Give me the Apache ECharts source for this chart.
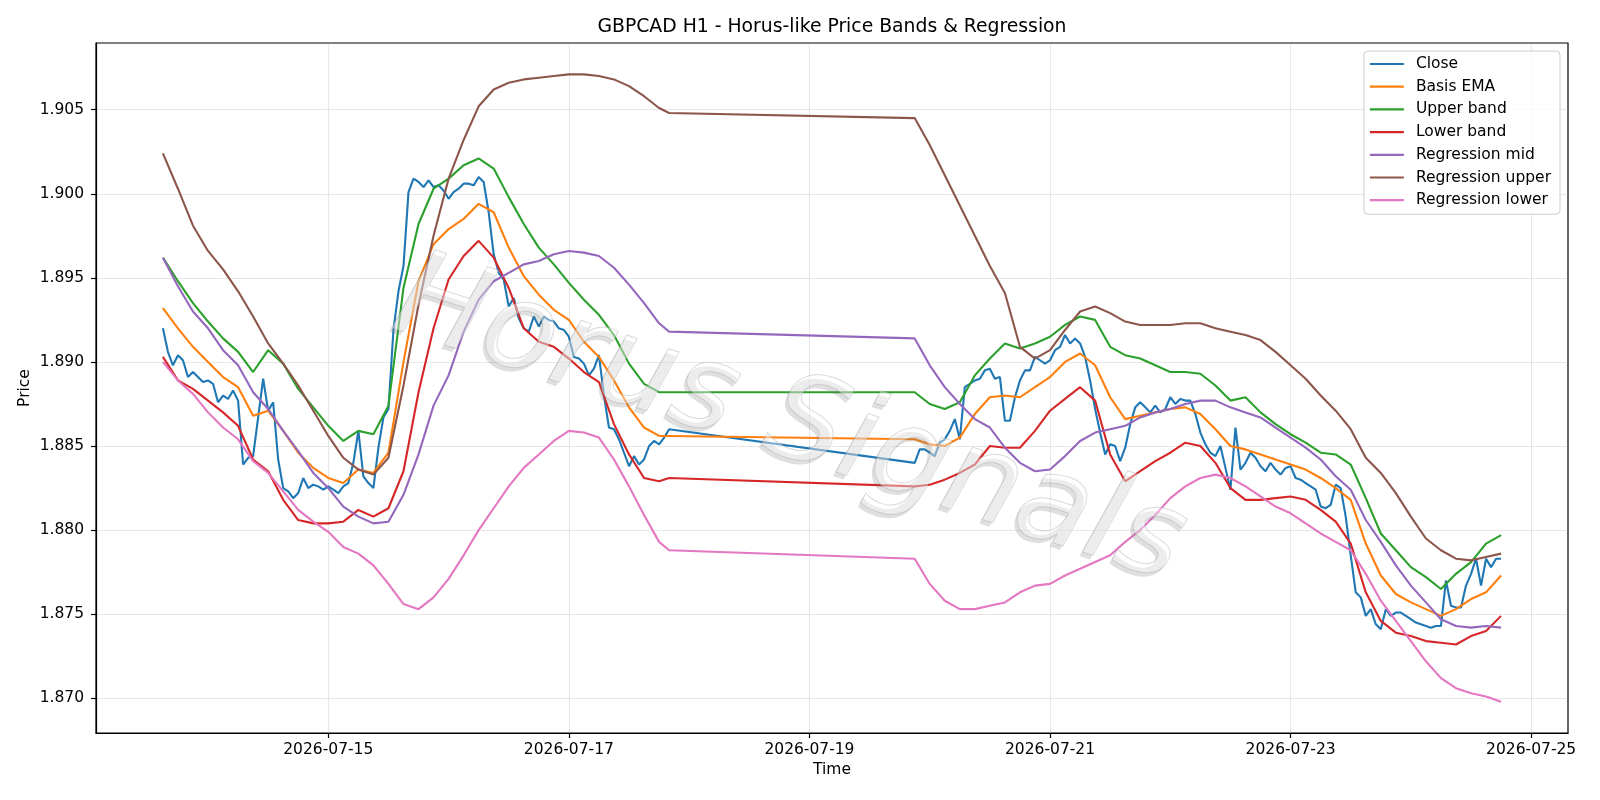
<!DOCTYPE html>
<html>
<head>
<meta charset="utf-8">
<title>GBPCAD H1 - Horus-like Price Bands & Regression</title>
<script src="https://cdn.jsdelivr.net/npm/echarts@6/dist/echarts.min.js"></script>
<style>
    html, body { margin: 0; padding: 0; background: #fff; }
    #chart { width: 1600px; height: 800px; }
</style>
</head>
<body>
<div id="chart"></div>
<script>
// hours are counted from the first H1 bar, 2026-07-13 15:00 UTC
const startTime = Date.UTC(2026, 6, 13, 15)
const HOUR = 3600 * 1000

// two trading sessions, the weekend in between has no bars
const sessions = [[0, 101], [150, 267]]

const closeWeek1 = [
    1.8920, 1.8906, 1.8898, 1.8904, 1.8901, 1.8891, 1.8894, 1.8891, 1.8888, 1.8889,
    1.8887, 1.8876, 1.8880, 1.8878, 1.8883, 1.8877, 1.8839, 1.8843, 1.8844, 1.8867,
    1.8890, 1.8871, 1.8876, 1.8842, 1.8825, 1.8823, 1.8819, 1.8822, 1.8831, 1.8825,
    1.8827, 1.8826, 1.8824, 1.8826, 1.8824, 1.8822, 1.8826, 1.8828, 1.8840, 1.8859,
    1.8832, 1.8828, 1.8825, 1.8849, 1.8867, 1.8872, 1.8919, 1.8942, 1.8957, 1.9001,
    1.9009, 1.9007, 1.9004, 1.9008, 1.9004, 1.9005, 1.9002, 1.8997, 1.9001, 1.9003,
    1.9006, 1.9006, 1.9005, 1.9010, 1.9007, 1.8989, 1.8964, 1.8953, 1.8949, 1.8933,
    1.8938, 1.8926, 1.8920, 1.8918, 1.8927, 1.8921, 1.8927, 1.8925, 1.8924, 1.8920,
    1.8919, 1.8915, 1.8903, 1.8902, 1.8899, 1.8892, 1.8896, 1.8904, 1.8880, 1.8861,
    1.8860, 1.8854, 1.8846, 1.8838, 1.8844, 1.8839, 1.8842, 1.8850, 1.8853, 1.8851,
    1.8855, 1.8860
]
const closeWeek2 = [
    1.8840, 1.8848, 1.8848, 1.8846, 1.8844, 1.8852, 1.8854, 1.8859, 1.8866, 1.8854,
    1.8885, 1.8887, 1.8889, 1.8890, 1.8895, 1.8896, 1.8890, 1.8891, 1.8865, 1.8865,
    1.8879, 1.8889, 1.8895, 1.8895, 1.8903, 1.8901, 1.8899, 1.8901, 1.8907, 1.8909,
    1.8916, 1.8911, 1.8914, 1.8911, 1.8903, 1.8889, 1.8872, 1.8858, 1.8845, 1.8851,
    1.8850, 1.8841, 1.8849, 1.8863, 1.8873, 1.8876, 1.8873, 1.8870, 1.8874, 1.8870,
    1.8872, 1.8879, 1.8875, 1.8878, 1.8877, 1.8877, 1.8869, 1.8858, 1.8851, 1.8846,
    1.8844, 1.8850, 1.8837, 1.8824, 1.8861, 1.8836, 1.8840, 1.8846, 1.8843, 1.8838,
    1.8835, 1.8840, 1.8836, 1.8833, 1.8837, 1.8838, 1.8831, 1.8830, 1.8828, 1.8826,
    1.8824, 1.8814, 1.8813, 1.8815, 1.8827, 1.8825, 1.8808, 1.8785, 1.8763, 1.8760,
    1.8749, 1.8753, 1.8744, 1.8741, 1.8753, 1.8749, 1.8751, 1.8751, 1.8749, 1.8747,
    1.8745, 1.8744, 1.8743, 1.8742, 1.8743, 1.8743, 1.8770, 1.8755, 1.8754, 1.8754,
    1.8767, 1.8774, 1.8783, 1.8767, 1.8783, 1.8778, 1.8783, 1.8783
]

// the smooth lines, read every third bar
const bandHours = [
    0, 3, 6, 9, 12, 15, 18, 21, 24, 27, 30, 33, 36, 39, 42, 45, 48, 51, 54, 57,
    60, 63, 66, 69, 72, 75, 78, 81, 84, 87, 90, 93, 96, 99, 101,
    150, 153, 156, 159, 162, 165, 168, 171, 174, 177, 180, 183, 186, 189, 192,
    195, 198, 201, 204, 207, 210, 213, 216, 219, 222, 225, 228, 231, 234, 237,
    240, 243, 246, 249, 252, 255, 258, 261, 264, 267
]
const basisEma = [
    1.8932, 1.8920, 1.8909, 1.8900, 1.8891, 1.8885, 1.8868, 1.8871, 1.8859, 1.8846,
    1.8837, 1.8831, 1.8828, 1.8836, 1.8834, 1.8846, 1.8900, 1.8948, 1.8970, 1.8979,
    1.8985, 1.8994, 1.8989, 1.8968, 1.8951, 1.8940, 1.8931, 1.8925, 1.8912, 1.8903,
    1.8889, 1.8873, 1.8861, 1.8856, 1.8856,
    1.8854, 1.8851, 1.8850, 1.8855, 1.8869, 1.8879, 1.8880, 1.8879, 1.8885, 1.8891,
    1.8900, 1.8905, 1.8898, 1.8879, 1.8866, 1.8868, 1.8870, 1.8872, 1.8873, 1.8869,
    1.8860, 1.8850, 1.8848, 1.8845, 1.8842, 1.8839, 1.8836, 1.8831, 1.8825, 1.8818,
    1.8792, 1.8773, 1.8762, 1.8757, 1.8753, 1.8749, 1.8753, 1.8759, 1.8763, 1.8773
]
const upperBand = [
    1.8962, 1.8948, 1.8935, 1.8924, 1.8914, 1.8906, 1.8894, 1.8907, 1.8899, 1.8884,
    1.8873, 1.8862, 1.8853, 1.8859, 1.8857, 1.8874, 1.8944, 1.8982, 1.9003, 1.9009,
    1.9017, 1.9021, 1.9015, 1.8998, 1.8982, 1.8968, 1.8958, 1.8947, 1.8937, 1.8928,
    1.8916, 1.8899, 1.8887, 1.8882, 1.8882,
    1.8882, 1.8875, 1.8872, 1.8876, 1.8892, 1.8902, 1.8911, 1.8908, 1.8911, 1.8915,
    1.8922, 1.8927, 1.8925, 1.8909, 1.8904, 1.8902, 1.8898, 1.8894, 1.8894, 1.8893,
    1.8886, 1.8877, 1.8879, 1.8870, 1.8863, 1.8857, 1.8852, 1.8846, 1.8845, 1.8839,
    1.8819, 1.8798, 1.8788, 1.8778, 1.8772, 1.8765, 1.8774, 1.8781, 1.8792, 1.8797
]
const lowerBand = [
    1.8903, 1.8889, 1.8884, 1.8877, 1.8870, 1.8862, 1.8842, 1.8835, 1.8818, 1.8806,
    1.8804, 1.8804, 1.8805, 1.8812, 1.8808, 1.8813, 1.8835, 1.8882, 1.8920, 1.8949,
    1.8963, 1.8972, 1.8962, 1.8944, 1.8920, 1.8912, 1.8909, 1.8902, 1.8894, 1.8888,
    1.8863, 1.8845, 1.8831, 1.8829, 1.8831,
    1.8826, 1.8827, 1.8830, 1.8834, 1.8839, 1.8850, 1.8849, 1.8849, 1.8859, 1.8871,
    1.8878, 1.8885, 1.8877, 1.8845, 1.8829, 1.8835, 1.8841, 1.8846, 1.8852, 1.8850,
    1.8840, 1.8825, 1.8818, 1.8818, 1.8819, 1.8820, 1.8818, 1.8812, 1.8805, 1.8792,
    1.8763, 1.8746, 1.8739, 1.8737, 1.8734, 1.8733, 1.8732, 1.8737, 1.8740, 1.8749
]
const regressionMid = [
    1.8962, 1.8945, 1.8930, 1.8920, 1.8907, 1.8898, 1.8882, 1.8872, 1.8859, 1.8847,
    1.8834, 1.8825, 1.8814, 1.8808, 1.8804, 1.8805, 1.8821, 1.8845, 1.8874, 1.8892,
    1.8918, 1.8937, 1.8948, 1.8953, 1.8958, 1.8960, 1.8964, 1.8966, 1.8965, 1.8963,
    1.8956, 1.8946, 1.8935, 1.8923, 1.8918,
    1.8914, 1.8898, 1.8885, 1.8875, 1.8866, 1.8861, 1.8849, 1.8840, 1.8835, 1.8836,
    1.8844, 1.8853, 1.8858, 1.8860, 1.8862, 1.8867, 1.8870, 1.8872, 1.8875, 1.8877,
    1.8877, 1.8873, 1.8870, 1.8867, 1.8861, 1.8855, 1.8849, 1.8842, 1.8832, 1.8824,
    1.8806, 1.8793, 1.8779, 1.8767, 1.8757, 1.8747, 1.8743, 1.8742, 1.8743, 1.8742
]
const regressionUpper = [
    1.9024, 1.9003, 1.8981, 1.8966, 1.8955, 1.8942, 1.8927, 1.8911, 1.8899, 1.8886,
    1.8871, 1.8856, 1.8843, 1.8836, 1.8833, 1.8843, 1.8886, 1.8934, 1.8975, 1.9009,
    1.9032, 1.9052, 1.9062, 1.9066, 1.9068, 1.9069, 1.9070, 1.9071, 1.9071, 1.9070,
    1.9068, 1.9064, 1.9058, 1.9051, 1.9048,
    1.9045, 1.9029, 1.9011, 1.8993, 1.8975, 1.8957, 1.8941, 1.8909, 1.8902, 1.8907,
    1.8919, 1.8930, 1.8933, 1.8929, 1.8924, 1.8922, 1.8922, 1.8922, 1.8923, 1.8923,
    1.8920, 1.8918, 1.8916, 1.8913, 1.8906, 1.8898, 1.8890, 1.8880, 1.8871, 1.8860,
    1.8843, 1.8834, 1.8822, 1.8808, 1.8795, 1.8788, 1.8783, 1.8782, 1.8784, 1.8786
]
const regressionLower = [
    1.8900, 1.8889, 1.8881, 1.8870, 1.8861, 1.8854, 1.8841, 1.8834, 1.8823, 1.8812,
    1.8805, 1.8799, 1.8790, 1.8786, 1.8779, 1.8768, 1.8756, 1.8753, 1.8760, 1.8771,
    1.8785, 1.8800, 1.8813, 1.8826, 1.8837, 1.8845, 1.8853, 1.8859, 1.8858, 1.8855,
    1.8842, 1.8826, 1.8809, 1.8793, 1.8788,
    1.8783, 1.8768, 1.8758, 1.8753, 1.8753, 1.8755, 1.8757, 1.8763, 1.8767, 1.8768,
    1.8773, 1.8777, 1.8781, 1.8785, 1.8793, 1.8800, 1.8809, 1.8819, 1.8826, 1.8831,
    1.8833, 1.8831, 1.8826, 1.8820, 1.8814, 1.8810, 1.8804, 1.8798, 1.8793, 1.8788,
    1.8774, 1.8758, 1.8746, 1.8734, 1.8722, 1.8712, 1.8706, 1.8703, 1.8701, 1.8698
]

const xTickDays = ['2026-07-15', '2026-07-17', '2026-07-19', '2026-07-21', '2026-07-23', '2026-07-25']
const yTicks = [1.870, 1.875, 1.880, 1.885, 1.890, 1.895, 1.900, 1.905]

const closeHours = []
sessions.forEach(([from, to]) => {
    for (let h = from; h <= to; h++) closeHours.push(h)
})
const closeValues = closeWeek1.concat(closeWeek2)

function toPoints(hours, values) {
    return values.map((v, i) => [startTime + hours[i] * HOUR, v])
}

const lines = [
    {name: 'Close', color: '#1f77b4', data: toPoints(closeHours, closeValues)},
    {name: 'Basis EMA', color: '#ff7f0e', data: toPoints(bandHours, basisEma)},
    {name: 'Upper band', color: '#2ca02c', data: toPoints(bandHours, upperBand)},
    {name: 'Lower band', color: '#d62728', data: toPoints(bandHours, lowerBand)},
    {name: 'Regression mid', color: '#9467bd', data: toPoints(bandHours, regressionMid)},
    {name: 'Regression upper', color: '#8c564b', data: toPoints(bandHours, regressionUpper)},
    {name: 'Regression lower', color: '#e377c2', data: toPoints(bandHours, regressionLower)}
]

// matplotlib style 5% margins around the data
const firstT = startTime + sessions[0][0] * HOUR
const lastT = startTime + sessions[1][1] * HOUR
const xPad = (lastT - firstT) * 0.05
const allValues = [].concat(closeValues, basisEma, upperBand, lowerBand, regressionMid, regressionUpper, regressionLower)
const yLow = Math.min(...allValues)
const yHigh = Math.max(...allValues)
const yPad = (yHigh - yLow) * 0.05

const xTicks = xTickDays.map(d => Date.parse(d + 'T00:00:00Z'))
const font = '"DejaVu Sans", sans-serif'
const gridColor = 'rgba(176,176,176,0.3)'
const watermark = {
    text: 'Horus Signals', font: 'italic 120px ' + font,
    align: 'center', verticalAlign: 'middle'
}
const markAngle = -18 * Math.PI / 180

let chart = echarts.init(document.getElementById('chart'))
let option = {
    animation: false,
    textStyle: {fontFamily: font},
    grid: {
        left: 96, top: 43, right: 32, bottom: 67,
        show: true, borderColor: '#000', borderWidth: 1.2
    },
    xAxis: {
        type: 'value',
        min: firstT - xPad,
        max: lastT + xPad,
        axisLine: {show: true, lineStyle: {color: '#000', width: 1.2}},
        axisTick: {show: true, length: 5, customValues: xTicks, lineStyle: {color: '#000', width: 1.2}},
        axisLabel: {
            customValues: xTicks,
            color: '#000', fontSize: 15.5, margin: 9,
            formatter: v => new Date(v).toISOString().slice(0, 10)
        },
        splitLine: {show: true, lineStyle: {color: gridColor, width: 1.1}}
    },
    yAxis: {
        type: 'value',
        min: yLow - yPad,
        max: yHigh + yPad,
        axisLine: {show: true, lineStyle: {color: '#000', width: 1.2}},
        axisTick: {show: true, length: 5, customValues: yTicks, lineStyle: {color: '#000', width: 1.2}},
        axisLabel: {
            customValues: yTicks,
            color: '#000', fontSize: 15.5, margin: 12,
            formatter: v => v.toFixed(3)
        },
        splitLine: {show: true, lineStyle: {color: gridColor, width: 1.1}}
    },
    legend: {
        orient: 'vertical',
        right: 40, top: 51,
        backgroundColor: 'rgba(255,255,255,0.8)',
        borderColor: '#cccccc', borderWidth: 1, borderRadius: 4,
        padding: [5, 9, 6, 6],
        icon: 'rect',
        itemWidth: 34, itemHeight: 2.2, itemGap: 6.7,
        textStyle: {fontSize: 15.5, color: '#000', padding: [0, 0, 0, 7]},
        data: lines.map(l => l.name)
    },
    graphic: [
        {
            type: 'text', x: 832, y: 27,
            style: {text: 'GBPCAD H1 - Horus-like Price Bands & Regression', font: '18.8px ' + font,
                fill: '#000', align: 'center', verticalAlign: 'middle'}
        },
        {
            type: 'text', x: 832, y: 770,
            style: {text: 'Time', font: '15.5px ' + font, fill: '#000', align: 'center', verticalAlign: 'middle'}
        },
        {
            type: 'text', x: 25, y: 388, rotation: Math.PI / 2,
            style: {text: 'Price', font: '15.5px ' + font, fill: '#000', align: 'center', verticalAlign: 'middle'}
        },
        {
            // watermark shadow
            type: 'text', x: 786, y: 428, rotation: markAngle, z: 100, silent: true,
            style: Object.assign({fill: 'rgba(110,110,110,0.22)'}, watermark)
        },
        {
            // watermark face
            type: 'text', x: 789, y: 424, rotation: markAngle, z: 101, silent: true,
            style: Object.assign({fill: 'rgba(255,255,255,0.4)', stroke: 'rgba(150,150,150,0.45)', lineWidth: 1}, watermark)
        }
    ],
    series: lines.map(l => ({
        name: l.name,
        type: 'line',
        data: l.data,
        symbol: 'none',
        showSymbol: false,
        color: l.color,
        lineStyle: {width: 2.1, color: l.color},
        emphasis: {disabled: true}
    }))
}
chart.setOption(option)
</script>
</body>
</html>
